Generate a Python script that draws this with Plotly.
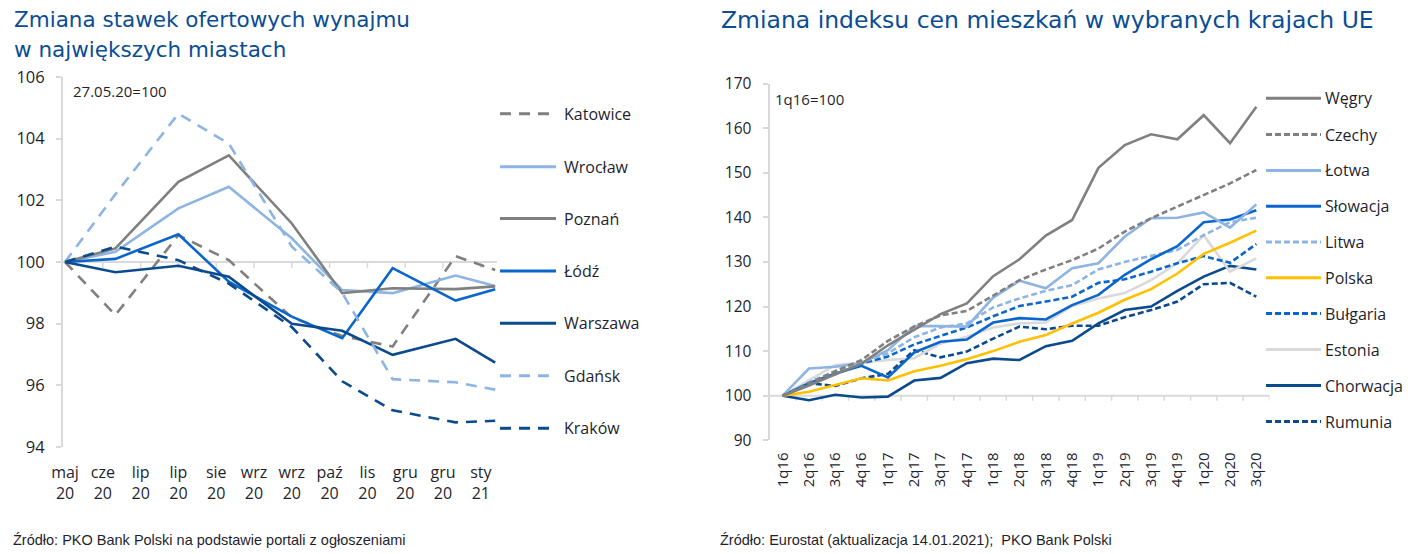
import plotly.graph_objects as go

W, H = 1417, 554

# ---------------- Left chart data ----------------
rent_dates = ["2020-05-27", "2020-06-24", "2020-07-29", "2020-08-26", "2020-09-30",
              "2020-10-28", "2020-11-25", "2020-12-30", "2021-01-21"]
katowice = [100, 98.28, 100.87, 100.06, 98.2, 97.6, 97.26, 100.19, 99.74]
wroclaw = [100, 100.33, 101.74, 102.44, 100.77, 99.09, 98.99, 99.56, 99.22]
poznan = [100, 100.44, 102.6, 103.46, 101.25, 98.99, 99.15, 99.12, 99.21]
lodz = [100, 100.1, 100.9, 99.36, 98.23, 97.53, 99.8, 98.75, 99.12]
warszawa = [100, 99.67, 99.88, 99.52, 98.0, 97.77, 96.99, 97.51, 96.74]
gdansk = [100, 102.2, 104.81, 103.84, 100.5, 99.0, 96.2, 96.1, 95.86]
krakow = [100, 100.5, 100.06, 99.3, 97.89, 96.13, 95.19, 94.8, 94.85]

rent_tick_dates = ["2020-05-27", "2020-06-17", "2020-07-08", "2020-07-29", "2020-08-19",
                   "2020-09-09", "2020-09-30", "2020-10-21", "2020-11-11", "2020-12-02",
                   "2020-12-23", "2021-01-13"]
rent_tick_labels = ["maj<br>20", "cze<br>20", "lip<br>20", "lip<br>20", "sie<br>20",
                    "wrz<br>20", "wrz<br>20", "paź<br>20", "lis<br>20", "gru<br>20",
                    "gru<br>20", "sty<br>21"]

# ---------------- Right chart data ----------------
quarters = ["1q16", "2q16", "3q16", "4q16", "1q17", "2q17", "3q17", "4q17", "1q18", "2q18",
            "3q18", "4q18", "1q19", "2q19", "3q19", "4q19", "1q20", "2q20", "3q20"]
wegry = [100, 102.3, 104.8, 107.2, 111.3, 114.8, 118.3, 120.7, 126.8, 130.6,
         135.9, 139.4, 151.1, 156.2, 158.6, 157.5, 162.9, 156.6, 164.8]
czechy = [100, 102.8, 105.5, 108.0, 112.3, 115.5, 118.0, 119.0, 122.4, 125.9,
          128.3, 130.4, 133.0, 136.8, 139.8, 142.4, 145.0, 147.6, 150.6]
lotwa = [100, 106.1, 106.5, 107.3, 110.2, 115.6, 115.6, 115.5, 122.0, 125.8,
         124.1, 128.6, 129.7, 135.7, 139.8, 139.9, 141.1, 137.7, 142.9]
slowacja = [100, 102.8, 105.0, 106.7, 104.1, 109.7, 112.1, 112.6, 116.4, 117.4,
            117.1, 120.3, 122.6, 127.1, 130.6, 133.5, 138.9, 139.5, 141.6]
litwa = [100, 103.0, 105.5, 107.5, 109.5, 113.1, 115.3, 116.2, 119.8, 121.8,
         123.5, 124.8, 128.3, 130.0, 131.3, 132.7, 136.0, 138.9, 139.9]
polska = [100, 100.9, 102.4, 103.9, 103.4, 105.5, 106.7, 108.2, 110.0, 112.1,
          113.6, 116.2, 118.6, 121.5, 123.9, 127.4, 131.8, 134.3, 137.0]
bulgaria = [100, 102.6, 104.8, 107.2, 108.8, 111.5, 113.4, 115.3, 117.8, 120.1,
            121.1, 122.2, 125.3, 126.1, 127.8, 129.7, 131.3, 129.8, 134.0]
estonia = [100, 103.5, 106.9, 107.4, 108.0, 108.4, 111.7, 113.2, 115.3, 116.2,
           116.4, 120.1, 121.8, 123.0, 125.9, 129.7, 136.0, 127.8, 130.8]
chorwacja = [100, 99.0, 100.2, 99.6, 99.8, 103.4, 104.0, 107.3, 108.3, 108.0,
             111.1, 112.3, 116.2, 119.2, 120.0, 123.5, 126.7, 129.1, 128.3]
rumunia = [100, 102.8, 102.2, 103.9, 104.9, 110.2, 108.6, 109.9, 112.8, 115.5,
           114.9, 115.7, 115.7, 117.6, 119.2, 121.1, 125.0, 125.3, 122.2]

# ---------------- Styles ----------------
GRAY = "#808080"
LBLUE = "#8db4e2"
BLUE = "#0a66cc"
DBLUE = "#0b4a8c"
YELLOW = "#ffc000"
LGRAY = "#d9d9d9"
AXIS = "#d9d9d9"
TXT = "#1f1f2e"
TITLE = "#0a4d94"
FONT = "Open Sans"
TFONT = "DejaVu Sans"
LDASH = "11px,8px"
SDASH = "6px,3px"

left_series = [
    ("Katowice", katowice, GRAY, LDASH),
    ("Wrocław", wroclaw, LBLUE, "solid"),
    ("Poznań", poznan, GRAY, "solid"),
    ("Łódź", lodz, BLUE, "solid"),
    ("Warszawa", warszawa, DBLUE, "solid"),
    ("Gdańsk", gdansk, LBLUE, LDASH),
    ("Kraków", krakow, DBLUE, LDASH),
]
right_series = [
    ("Węgry", wegry, GRAY, "solid"),
    ("Czechy", czechy, GRAY, SDASH),
    ("Łotwa", lotwa, LBLUE, "solid"),
    ("Słowacja", slowacja, BLUE, "solid"),
    ("Litwa", litwa, LBLUE, SDASH),
    ("Polska", polska, YELLOW, "solid"),
    ("Bułgaria", bulgaria, BLUE, SDASH),
    ("Estonia", estonia, LGRAY, "solid"),
    ("Chorwacja", chorwacja, DBLUE, "solid"),
    ("Rumunia", rumunia, DBLUE, SDASH),
]

LW = 2.6

fig = go.Figure()

for name, vals, col, dash in left_series:
    fig.add_trace(go.Scatter(x=rent_dates, y=vals, mode="lines", name=name,
                             line=dict(color=col, width=LW, dash=dash),
                             xaxis="x", yaxis="y", showlegend=False))
for name, vals, col, dash in reversed(right_series):
    fig.add_trace(go.Scatter(x=quarters, y=vals, mode="lines", name=name,
                             line=dict(color=col, width=LW, dash=dash),
                             xaxis="x2", yaxis="y2", showlegend=False))


def px_x(p):
    return p / W


def px_y(p):
    return 1 - p / H


# plot areas (pixels)
L_X0, L_X1, L_Y0, L_Y1 = 63, 497, 77, 447
R_X0, R_X1, R_Y0, R_Y1 = 769.5, 1269.5, 83.5, 440.3

fig.update_layout(
    width=W, height=H,
    margin=dict(l=0, r=0, t=0, b=0, pad=0, autoexpand=False),
    paper_bgcolor="white", plot_bgcolor="white",
    font=dict(family=FONT, color=TXT),
    showlegend=False,
    xaxis=dict(domain=[px_x(L_X0), px_x(L_X1)], anchor="y", type="date", automargin=False,
               range=["2020-05-25 21:00", "2021-01-22 00:00"],
               tickmode="array", tickvals=rent_tick_dates, ticktext=rent_tick_labels,
               showgrid=False, zeroline=False, showline=False, ticks="",
               tickfont=dict(size=16, color=TXT), ticklabelstandoff=14),
    yaxis=dict(domain=[px_y(L_Y1), px_y(L_Y0)], anchor="x", range=[94, 106], automargin=False,
               tickmode="linear", tick0=94, dtick=2,
               showgrid=False, zeroline=False, showline=True, linecolor=AXIS, linewidth=2,
               ticks="outside", ticklen=5, tickcolor=AXIS, tickwidth=1.5,
               tickfont=dict(size=16.5, color=TXT), ticklabelstandoff=8),
    xaxis2=dict(domain=[px_x(R_X0), px_x(R_X1)], anchor="y2", type="category", automargin=False,
                range=[-0.5, len(quarters) - 0.5],
                showgrid=False, zeroline=False, showline=False, ticks="",
                tickangle=-90, tickfont=dict(size=15, color=TXT), ticklabelstandoff=8),
    yaxis2=dict(domain=[px_y(R_Y1), px_y(R_Y0)], anchor="x2", range=[90, 170], automargin=False,
                tickmode="linear", tick0=90, dtick=10,
                showgrid=False, zeroline=False, showline=True, linecolor=AXIS, linewidth=2,
                ticks="outside", ticklen=5, tickcolor=AXIS, tickwidth=1.5,
                tickfont=dict(size=15.5, color=TXT), ticklabelstandoff=8),
)

shapes = []
shapes.append(dict(type="line", xref="x domain", yref="y", x0=0, x1=1, y0=100, y1=100,
                   line=dict(color=AXIS, width=2), layer="below"))
for d in rent_tick_dates[1:]:
    shapes.append(dict(type="line", xref="x", yref="y", ysizemode="pixel", yanchor=100,
                       x0=d, x1=d, y0=0, y1=-6, line=dict(color=AXIS, width=1.5), layer="below"))
shapes.append(dict(type="line", xref="x2 domain", yref="y2", x0=0, x1=1, y0=100, y1=100,
                   line=dict(color=AXIS, width=2), layer="below"))
for i in range(len(quarters)):
    xi = i + 0.5
    shapes.append(dict(type="line", xref="x2", yref="y2", ysizemode="pixel", yanchor=100,
                       x0=xi, x1=xi, y0=0, y1=-5, line=dict(color=AXIS, width=1.5), layer="below"))

annotations = []
L_LEG_Y = [113.7, 166.7, 218.5, 271, 323.3, 375.8, 428.3]
for (name, vals, col, dash), yy in zip(left_series, L_LEG_Y):
    shapes.append(dict(type="line", xref="paper", yref="paper",
                       x0=px_x(500), x1=px_x(556), y0=px_y(yy), y1=px_y(yy),
                       line=dict(color=col, width=LW + 0.4, dash=dash)))
    annotations.append(dict(text=name, xref="paper", yref="paper", x=px_x(562), y=px_y(yy),
                            xanchor="left", yanchor="middle", showarrow=False,
                            font=dict(size=16, color=TXT, family=FONT)))
R_LEG_Y = [98.3, 134.5, 170.5, 206.3, 242, 277.8, 313.6, 349.6, 385.5, 421.5]
for (name, vals, col, dash), yy in zip(right_series, R_LEG_Y):
    shapes.append(dict(type="line", xref="paper", yref="paper",
                       x0=px_x(1266), x1=px_x(1321), y0=px_y(yy), y1=px_y(yy),
                       line=dict(color=col, width=LW + 0.4, dash=dash)))
    annotations.append(dict(text=name, xref="paper", yref="paper", x=px_x(1323), y=px_y(yy),
                            xanchor="left", yanchor="middle", showarrow=False,
                            font=dict(size=16, color=TXT, family=FONT)))

annotations.append(dict(text="Zmiana stawek ofertowych wynajmu",
                        xref="paper", yref="paper", x=px_x(12), y=px_y(20), xanchor="left",
                        yanchor="middle", align="left", showarrow=False,
                        font=dict(size=21.5, color=TITLE, family=TFONT)))
annotations.append(dict(text="w największych miastach",
                        xref="paper", yref="paper", x=px_x(12), y=px_y(50), xanchor="left",
                        yanchor="middle", align="left", showarrow=False,
                        font=dict(size=21.5, color=TITLE, family=TFONT)))
annotations.append(dict(text="Zmiana indeksu cen mieszkań w wybranych krajach UE",
                        xref="paper", yref="paper", x=px_x(719), y=px_y(20), xanchor="left",
                        yanchor="middle", align="left", showarrow=False,
                        font=dict(size=23.5, color=TITLE, family=TFONT)))
annotations.append(dict(text="27.05.20=100", xref="paper", yref="paper", x=px_x(71), y=px_y(91),
                        xanchor="left", yanchor="middle", showarrow=False,
                        font=dict(size=15, color=TXT, family=FONT)))
annotations.append(dict(text="1q16=100", xref="paper", yref="paper", x=px_x(773), y=px_y(99),
                        xanchor="left", yanchor="middle", showarrow=False,
                        font=dict(size=15, color=TXT, family=FONT)))
annotations.append(dict(text="Źródło: PKO Bank Polski na podstawie portali z ogłoszeniami",
                        xref="paper", yref="paper", x=px_x(11), y=px_y(540),
                        xanchor="left", yanchor="middle", showarrow=False,
                        font=dict(size=14.5, color=TXT, family="Liberation Sans Narrow, Liberation Sans")))
annotations.append(dict(text="Źródło: Eurostat (aktualizacja 14.01.2021);  PKO Bank Polski",
                        xref="paper", yref="paper", x=px_x(718), y=px_y(540),
                        xanchor="left", yanchor="middle", showarrow=False,
                        font=dict(size=14.5, color=TXT, family="Liberation Sans Narrow, Liberation Sans")))

fig.update_layout(shapes=shapes, annotations=annotations)
fig.write_html("out.html", config={"displayModeBar": False},
               post_script="document.body.style.margin='0';document.body.style.overflow='hidden';")
